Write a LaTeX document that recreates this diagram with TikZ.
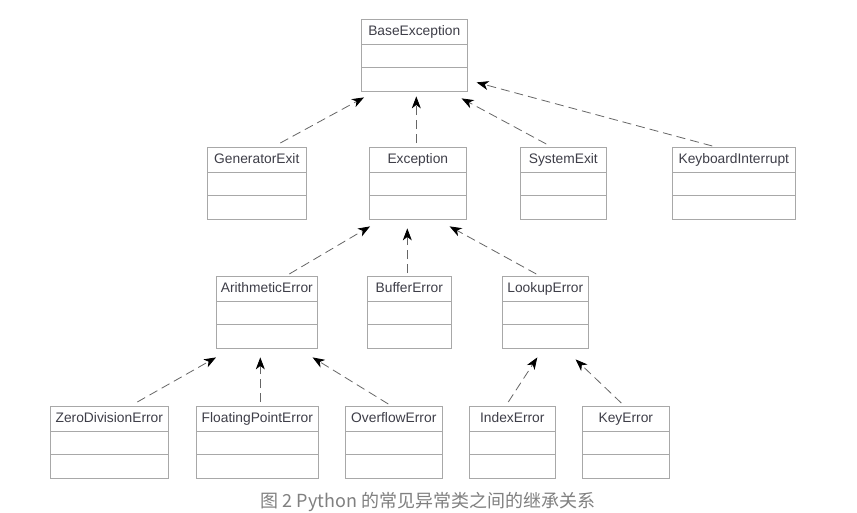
\documentclass[tikz,border=0pt]{standalone}
\usepackage{fontspec}
\setmainfont{Liberation Sans}
\newfontfamily\cjk{Noto Sans CJK SC}
\usetikzlibrary{positioning,shapes.multipart,arrows.meta}
\definecolor{boxline}{HTML}{A8A8A8}
\definecolor{clstext}{HTML}{3E3E48}
\definecolor{arrowline}{HTML}{666666}
\definecolor{captext}{HTML}{808080}
\newcommand{\clsbody}[1]{\rule[-8pt]{0pt}{24pt}#1\nodepart{second}\rule{0pt}{23pt}\nodepart{third}\rule{0pt}{23pt}}

\begin{document}
\begin{tikzpicture}[x=1pt,y=-1pt,
		cls/.style={rectangle split, rectangle split parts=3, draw=boxline,
			line width=0.6pt, inner xsep=0pt, inner ysep=0pt, align=center,
			text=clstext, font=\fontsize{13.8}{16}\selectfont, anchor=north west},
		inh/.style={draw=arrowline, line width=0.8pt, dash pattern=on 9pt off 5pt,
			-{Stealth[length=12pt,width=9pt,inset=3.5pt,black]}}
		]
		\fill[white] (0,0) rectangle (857,512);
		\useasboundingbox (0,0) rectangle (857,512);
		% classes
		\node[cls, text width=106pt] (base) at (361,19) {\clsbody{BaseException}};
		\node[cls, text width=99pt] (gen) at (207,147) {\clsbody{GeneratorExit}};
		\node[cls, text width=97pt] (exc) at (369,147) {\clsbody{Exception}};
		\node[cls, text width=86pt] (sys) at (520,147) {\clsbody{SystemExit}};
		\node[cls, text width=123pt] (kbd) at (672,147) {\clsbody{KeyboardInterrupt}};
		\node[cls, text width=101pt] (arith) at (216,276) {\clsbody{ArithmeticError}};
		\node[cls, text width=84pt] (buf) at (367,276) {\clsbody{BufferError}};
		\node[cls, text width=86pt] (look) at (502,276) {\clsbody{LookupError}};
		\node[cls, text width=118pt] (zero) at (50,406) {\clsbody{ZeroDivisionError}};
		\node[cls, text width=122pt] (float) at (196,406) {\clsbody{FloatingPointError}};
		\node[cls, text width=97pt] (over) at (345,406) {\clsbody{OverflowError}};
		\node[cls, text width=86pt] (index) at (469,406) {\clsbody{IndexError}};
		\node[cls, text width=87pt] (key) at (582,406) {\clsbody{KeyError}};
		% inheritance
		\path
		([xshift=23.5pt,yshift=4pt]gen.north) edge [inh] ([xshift=3pt,yshift=-6pt]base.south west)
		([xshift=-1.5pt,yshift=4pt]exc.north) edge [inh] ([xshift=2pt,yshift=-5pt]base.south)
		([xshift=-17pt,yshift=3pt]sys.north) edge [inh] ([xshift=-6pt,yshift=-7pt]base.south east)
		([xshift=-21.5pt,yshift=1pt]kbd.north) edge [inh] ([xshift=9pt,yshift=9pt]base.south east)
		([xshift=22.5pt,yshift=2pt]arith.north) edge [inh] ([xshift=1pt,yshift=-7pt]exc.south west)
		([xshift=-2pt,yshift=3pt]buf.north) edge [inh] ([xshift=-10.5pt,yshift=-9pt]exc.south)
		([xshift=-9pt,yshift=2pt]look.north) edge [inh] ([xshift=-17pt,yshift=-7pt]exc.south east)
		([xshift=28pt,yshift=4pt]zero.north) edge [inh] ([yshift=-9pt]arith.south west)
		([xshift=3pt,yshift=4pt]float.north) edge [inh] ([xshift=-6.5pt,yshift=-9pt]arith.south)
		([xshift=-5.5pt,yshift=2pt]over.north) edge [inh] ([xshift=-5pt,yshift=-9pt]arith.south east)
		([xshift=-4pt,yshift=4pt]index.north) edge [inh] ([xshift=-8pt,yshift=-9pt]look.south)
		([xshift=-4.5pt,yshift=3pt]key.north) edge [inh] ([xshift=-13pt,yshift=-11pt]look.south east);
		\node[font=\cjk\fontsize{18}{20}\selectfont, text=captext] (cap) at (428,502)
		{图 2 Python 的常见异常类之间的继承关系};
\end{tikzpicture}
\end{document}
